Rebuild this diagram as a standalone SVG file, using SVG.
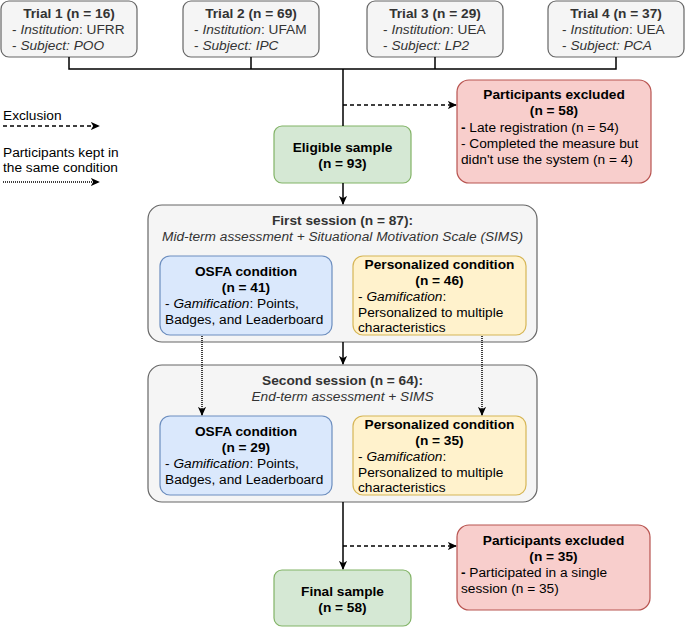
<svg xmlns="http://www.w3.org/2000/svg" width="685" height="628" viewBox="0 0 685 628">
<defs>
<marker id="arr" viewBox="0 0 10 10" refX="9" refY="5" markerWidth="9" markerHeight="9" orient="auto" markerUnits="userSpaceOnUse">
<path d="M0,0.5 L10,5 L0,9.5 L2.5,5 Z" fill="#000"/>
</marker>
<style>
text{font-family:"Liberation Sans",Arial,sans-serif;font-size:13.7px;fill:#000}
.b{font-weight:bold}
.i{font-style:italic}
.g{fill:#333}
.c{text-anchor:middle}
.gray{fill:#f5f5f5;stroke:#666;stroke-width:1.2}
.green{fill:#d5e8d4;stroke:#82b366;stroke-width:1.2}
.red{fill:#f8cecc;stroke:#b85450;stroke-width:1.2}
.blue{fill:#dae8fc;stroke:#6c8ebf;stroke-width:1.2}
.yellow{fill:#fff2cc;stroke:#d6b656;stroke-width:1.2}
.ln{fill:none;stroke:#000;stroke-width:1.5}
.dash{stroke-dasharray:4 3}
.dot{stroke-dasharray:1 1}
</style>
</defs>
<rect width="685" height="628" fill="#fff"/>

<g id="legend">
<text x="3" y="120">Exclusion</text>
<text x="3" y="157">Participants kept in</text>
<text x="3" y="172">the same condition</text>
</g>

<g id="trial1">
<rect class="gray" x="1" y="1" width="136" height="56" rx="8"/>
<text class="b g c" x="69" y="18">Trial 1 (n = 16)</text>
<text class="g" x="12" y="34">- <tspan class="i">Institution</tspan>: UFRR</text>
<text class="g" x="12" y="50">- <tspan class="i">Subject: POO</tspan></text>
</g>
<g id="trial2">
<rect class="gray" x="183" y="1" width="136" height="56" rx="8"/>
<text class="b g c" x="251" y="18">Trial 2 (n = 69)</text>
<text class="g" x="194" y="34">- <tspan class="i">Institution</tspan>: UFAM</text>
<text class="g" x="194" y="50">- <tspan class="i">Subject: IPC</tspan></text>
</g>
<g id="trial3">
<rect class="gray" x="367" y="1" width="136" height="56" rx="8"/>
<text class="b g c" x="435" y="18">Trial 3 (n = 29)</text>
<text class="g" x="383" y="34">- <tspan class="i">Institution</tspan>: UEA</text>
<text class="g" x="383" y="50">- <tspan class="i">Subject: LP2</tspan></text>
</g>
<g id="trial4">
<rect class="gray" x="548" y="1" width="136" height="56" rx="8"/>
<text class="b g c" x="616" y="18">Trial 4 (n = 37)</text>
<text class="g" x="562" y="34">- <tspan class="i">Institution</tspan>: UEA</text>
<text class="g" x="562" y="50">- <tspan class="i">Subject: PCA</tspan></text>
</g>

<g id="eligible">
<rect class="green" x="274" y="126" width="137" height="57" rx="8"/>
<text class="b c" x="342.5" y="152">Eligible sample</text>
<text class="b c" x="342.5" y="168">(n = 93)</text>
</g>

<g id="excluded1">
<rect class="red" x="457" y="80" width="194" height="103" rx="12"/>
<text class="b c" x="554" y="99">Participants excluded</text>
<text class="b c" x="554" y="115">(n = 58)</text>
<text x="461" y="132"><tspan class="b">-</tspan> Late registration (n = 54)</text>
<text x="461" y="148">- Completed the measure but</text>
<text x="461" y="164">didn't use the system (n = 4)</text>
</g>

<g id="session1">
<rect class="gray" x="148" y="205" width="389" height="137" rx="14"/>
<text class="b g c" x="342.5" y="225">First session (n = 87):</text>
<text class="i g c" x="342.5" y="241">Mid-term assessment + Situational Motivation Scale (SIMS)</text>
</g>
<g id="osfa1">
<rect class="blue" x="160" y="256" width="172" height="79" rx="10"/>
<text class="b c" x="246" y="276">OSFA condition</text>
<text class="b c" x="246" y="292">(n = 41)</text>
<text x="165" y="308">- <tspan class="i">Gamification</tspan>: Points,</text>
<text x="165" y="324">Badges, and Leaderboard</text>
</g>
<g id="pers1">
<rect class="yellow" x="353" y="256" width="173" height="79" rx="10"/>
<text class="b c" x="439.5" y="269">Personalized condition</text>
<text class="b c" x="439.5" y="285">(n = 46)</text>
<text x="358" y="301">- <tspan class="i">Gamification</tspan>:</text>
<text x="358" y="317">Personalized to multiple</text>
<text x="358" y="332">characteristics</text>
</g>

<g id="session2">
<rect class="gray" x="148" y="365" width="389" height="137" rx="14"/>
<text class="b g c" x="342.5" y="385">Second session (n = 64):</text>
<text class="i g c" x="342.5" y="401">End-term assessment + SIMS</text>
</g>
<g id="osfa2">
<rect class="blue" x="160" y="416" width="172" height="79" rx="10"/>
<text class="b c" x="246" y="436">OSFA condition</text>
<text class="b c" x="246" y="452">(n = 29)</text>
<text x="165" y="468">- <tspan class="i">Gamification</tspan>: Points,</text>
<text x="165" y="484">Badges, and Leaderboard</text>
</g>
<g id="pers2">
<rect class="yellow" x="353" y="416" width="173" height="79" rx="10"/>
<text class="b c" x="439.5" y="429">Personalized condition</text>
<text class="b c" x="439.5" y="445">(n = 35)</text>
<text x="358" y="461">- <tspan class="i">Gamification</tspan>:</text>
<text x="358" y="477">Personalized to multiple</text>
<text x="358" y="492">characteristics</text>
</g>

<g id="excluded2">
<rect class="red" x="457" y="525" width="193" height="85" rx="12"/>
<text class="b c" x="553.5" y="545">Participants excluded</text>
<text class="b c" x="553.5" y="561">(n = 35)</text>
<text x="461" y="577"><tspan class="b">-</tspan> Participated in a single</text>
<text x="461" y="593">session (n = 35)</text>
</g>

<g id="final">
<rect class="green" x="274" y="570" width="137" height="56" rx="8"/>
<text class="b c" x="342.5" y="596">Final sample</text>
<text class="b c" x="342.5" y="612">(n = 58)</text>
</g>

<g id="connectors">
<path class="ln" d="M69,57 V69 H616 V57 M251,57 V69 M435,57 V69 M343,69 V126"/>
<path class="ln dash" d="M343,105 H456" marker-end="url(#arr)"/>
<path class="ln" d="M343,183 V204" marker-end="url(#arr)"/>
<path class="ln" d="M343,342 V364" marker-end="url(#arr)"/>
<path class="ln dot" d="M202,336 V415" marker-end="url(#arr)"/>
<path class="ln dot" d="M482,336 V415" marker-end="url(#arr)"/>
<path class="ln" d="M343,502 V569" marker-end="url(#arr)"/>
<path class="ln dash" d="M343,546 H456" marker-end="url(#arr)"/>
<path class="ln dash" d="M3,126 H99" marker-end="url(#arr)"/>
<path class="ln dot" d="M3,182 H99" marker-end="url(#arr)"/>
</g>
</svg>
